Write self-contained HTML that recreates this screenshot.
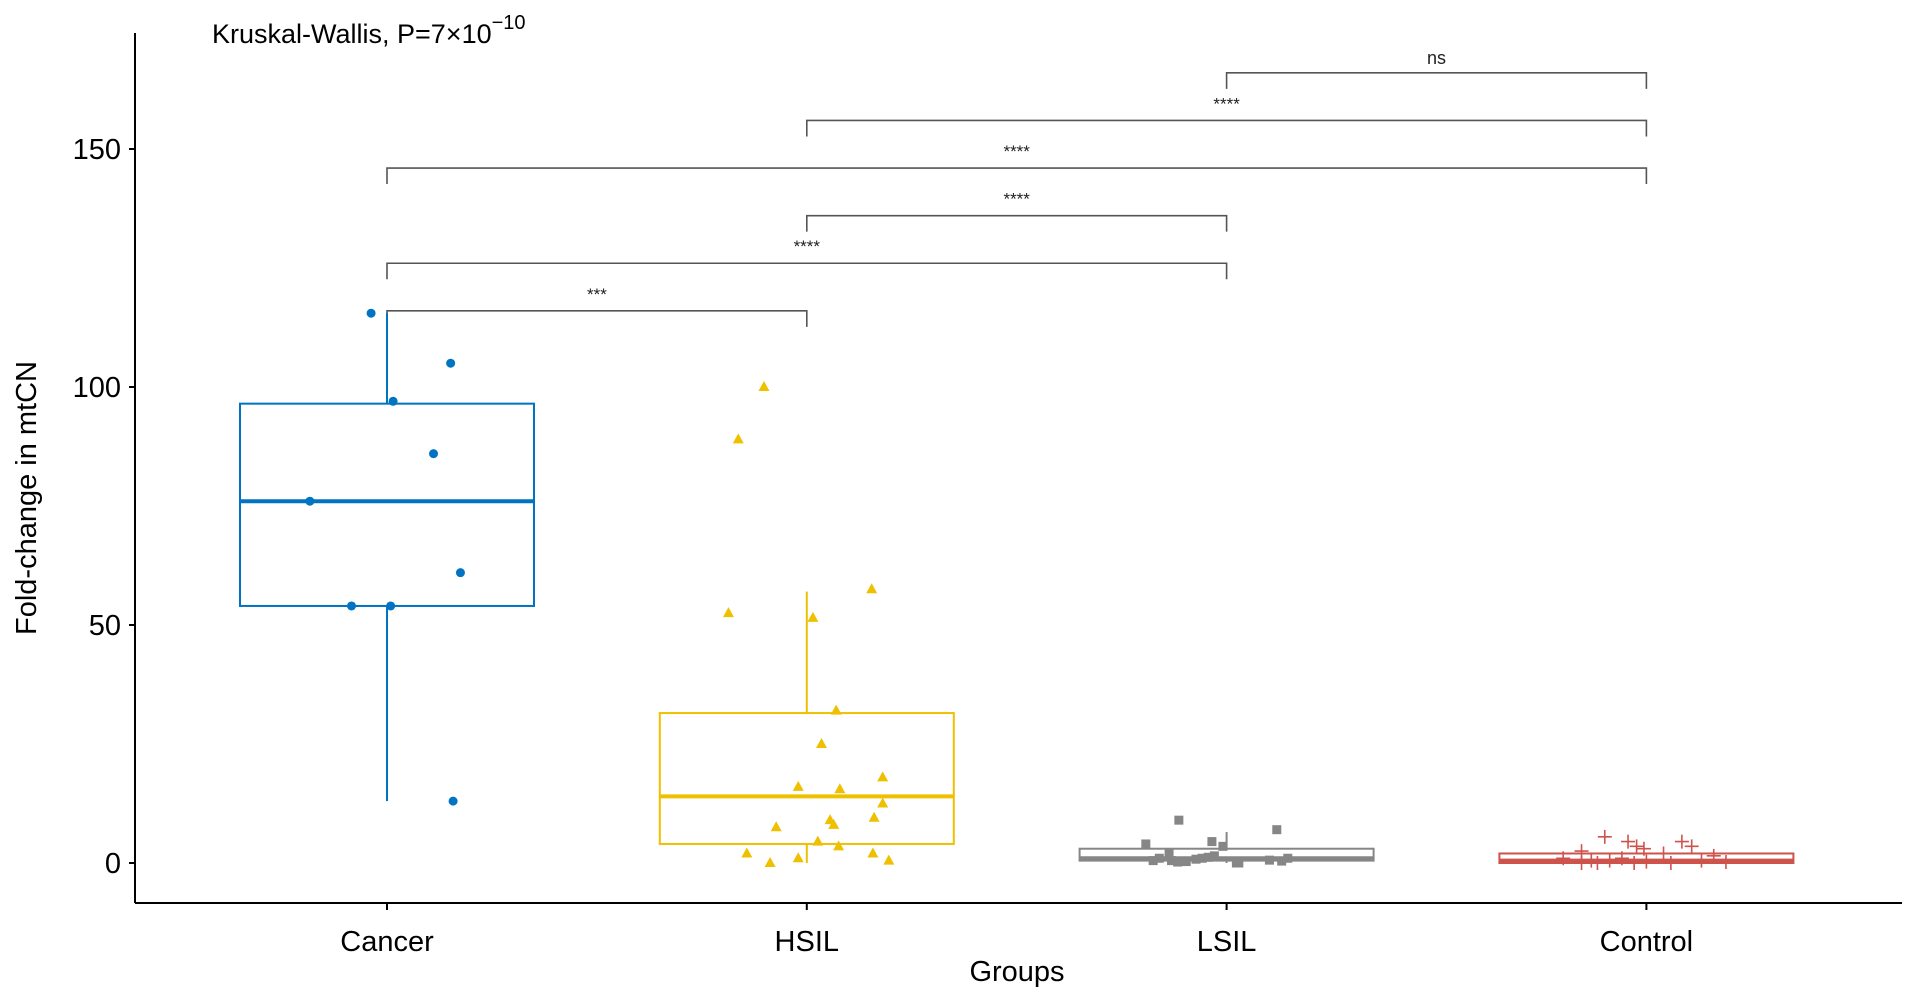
<!DOCTYPE html>
<html><head><meta charset="utf-8">
<style>
html,body{margin:0;padding:0;background:#fff;}
svg{display:block;font-family:"Liberation Sans",Arial,sans-serif;}
</style></head>
<body>
<svg id="chart" width="1914" height="998" viewBox="0 0 1914 998" xmlns="http://www.w3.org/2000/svg">
<text x="212" y="43" font-size="27" fill="#000">Kruskal-Wallis, P=7×10<tspan font-size="20" dy="-14">−10</tspan></text>
<g id="axes"></g>
<g id="brackets"></g>
<g id="marks"></g>
</svg>
<script>
const categories = ["Cancer","HSIL","LSIL","Control"];
const colors = ["#0073C2","#EFC000","#868686","#CD534C"];
const boxQ1 = [54, 4, 0.5, 0];
const boxMedian = [76, 14, 1, 0.5];
const boxQ3 = [96.5, 31.5, 3, 2];
const whiskerLow = [13, 0, 0, 0];
const whiskerHigh = [115.5, 57, 6.5, 2];
const cancerValues = [115.5,105,97,86,76,61,54,54,13];
const cancerJitter = [-13,52,5,38,-63,60,-29,3,54];
const hsilValues = [100,89,52.5,51.5,57.5,32,25,16,15.5,18,12.5,9.5,9,8,7.5,4.5,3.5,2,2,1,0.5,0];
const hsilJitter = [-35,-56,-64,5,53,24,12,-7,27,62,62,55,19,22,-25,9,26,-49,54,-7,67,-30];
const lsilValues = [9,7,4,4.5,3.5,2,1.5,1,0.5,0.3,0,1,0.8,0.2,0.5,1.2,0,0.6,0.4,1];
const lsilJitter = [-39,41,-66,-12,-3,-47,-10,-20,-45,-33,10,-55,-25,-40,-60,-15,8,35,45,50];
const controlValues = [5.5,4.5,3.5,3,4.5,3.5,2.5,2,1,0.5,0,0,0.5,1,0,0.3,0,0.5,1.5,0.2];
const controlJitter = [-34,-15,-8,-2,29,37,-53,14,-68,-45,-53,-40,-30,-20,-10,0,20,45,55,65];
const yTicks = [0,50,100,150];
const bracketPairs = [[0,1],[0,2],[1,2],[0,3],[1,3],[2,3]];
const bracketLevels = [116,126,136,146,156,166];
const bracketLabels = ["***","****","****","****","****","ns"];

const NS="http://www.w3.org/2000/svg";
const X0=135, XEND=1902, YAX=903, YTOP=33;
function yScale(v){return 863 - v*4.76;}
function xScale(i){return 387 + i*419.8;}
const BW=294;
function mk(tag,attrs,parent){const e=document.createElementNS(NS,tag);for(const k in attrs)e.setAttribute(k,attrs[k]);parent.appendChild(e);return e;}
const axes=document.getElementById('axes'), br=document.getElementById('brackets'), marks=document.getElementById('marks');

let l=mk('line',{x1:X0,y1:YTOP,x2:X0,y2:YAX,stroke:'#000','stroke-width':2},axes);


l=mk('line',{x1:X0,y1:YAX,x2:XEND,y2:YAX,stroke:'#000','stroke-width':2},axes);


yTicks.forEach(t=>{
  const y=yScale(t);
  const tk=mk('line',{x1:X0-6,y1:y,x2:X0,y2:y,stroke:'#000','stroke-width':2},axes);
  
  
  const tx=mk('text',{x:X0-14,y:y+10,'font-size':29,'text-anchor':'end',fill:'#000'},axes);
  tx.textContent=t;
  
  
});
categories.forEach((c,i)=>{
  const x=xScale(i);
  const tk=mk('line',{x1:x,y1:YAX,x2:x,y2:YAX+7,stroke:'#000','stroke-width':2},axes);
  
  
  const tx=mk('text',{x:x,y:951,'font-size':29,'text-anchor':'middle',fill:'#000'},axes);
  tx.textContent=c;
  
  
});
let t=mk('text',{x:1017,y:981,'font-size':29,'text-anchor':'middle',fill:'#000'},axes);
t.textContent='Groups';


t=mk('text',{x:0,y:0,'font-size':29,'text-anchor':'middle',fill:'#000',transform:'translate(36,498) rotate(-90)'},axes);
t.textContent='Fold-change in mtCN';



bracketPairs.forEach((p,k)=>{
  const y=yScale(bracketLevels[k]), xa=xScale(p[0]), xb=xScale(p[1]);
  const pth=mk('path',{d:`M${xa},${y+16}V${y}H${xb}V${y+16}`,fill:'none',stroke:'#555','stroke-width':1.6},br);
  
  
  const lab=bracketLabels[k];
  const tx=mk('text',{x:(xa+xb)/2,y:lab==='ns'?y-9:y-11,'font-size':lab==='ns'?18:17,'text-anchor':'middle',fill:'#222'},br);
  tx.textContent=lab;
  
  
});

categories.forEach((c,i)=>{
  const x=xScale(i), col=colors[i];
  const g=mk('g',{},marks);
  
  
  mk('line',{x1:x,y1:yScale(whiskerHigh[i]),x2:x,y2:yScale(boxQ3[i]),stroke:col,'stroke-width':2},g);
  mk('line',{x1:x,y1:yScale(boxQ1[i]),x2:x,y2:yScale(whiskerLow[i]),stroke:col,'stroke-width':2},g);
  const yq3=yScale(boxQ3[i]), yq1=yScale(boxQ1[i]);
  mk('rect',{x:x-BW/2,y:yq3,width:BW,height:Math.max(yq1-yq3,1),fill:'#fff',stroke:col,'stroke-width':2},g);
  mk('line',{x1:x-BW/2,y1:yScale(boxMedian[i]),x2:x+BW/2,y2:yScale(boxMedian[i]),stroke:col,'stroke-width':4},g);
});

const pointSets=[[cancerValues,cancerJitter,'circle'],[hsilValues,hsilJitter,'tri'],[lsilValues,lsilJitter,'sq'],[controlValues,controlJitter,'plus']];
pointSets.forEach((s,i)=>{
  const col=colors[i];
  s[0].forEach((v,j)=>{
    const x=xScale(i)+s[1][j]*1.224, y=yScale(v);
    let e;
    if(s[2]==='circle') e=mk('circle',{cx:x,cy:y,r:4.5,fill:col},marks);
    else if(s[2]==='tri') e=mk('path',{d:`M${x},${y-6}L${x+5.5},${y+4}L${x-5.5},${y+4}Z`,fill:col},marks);
    else if(s[2]==='sq') e=mk('rect',{x:x-4.5,y:y-4.5,width:9,height:9,fill:col},marks);
    else e=mk('path',{d:`M${x-7},${y}H${x+7}M${x},${y-7}V${y+7}`,stroke:col,'stroke-width':1.6,fill:'none'},marks);
    
    
  });
});
</script>
</body></html>
